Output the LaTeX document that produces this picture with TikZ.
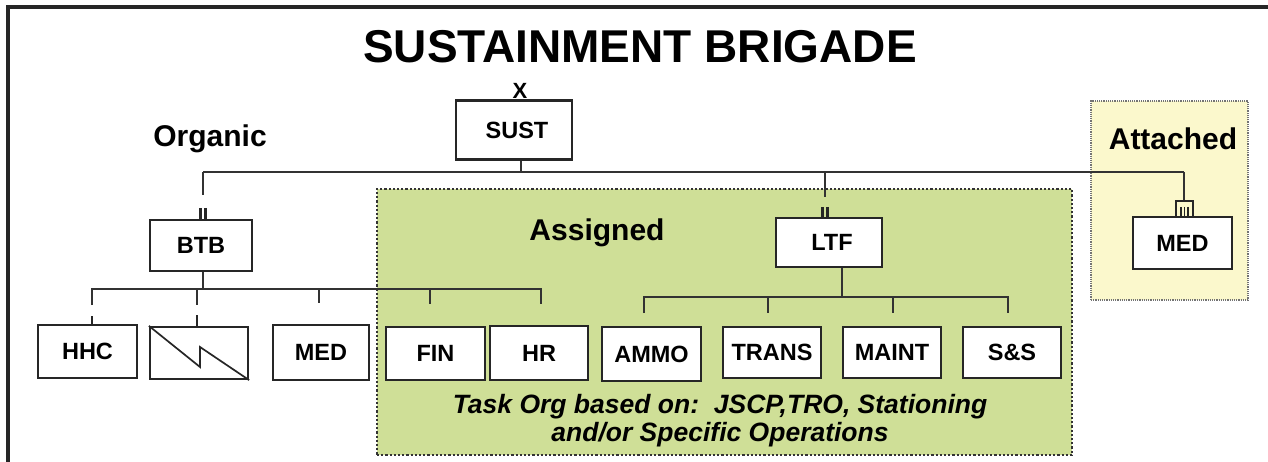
\documentclass[tikz,border=0pt]{standalone}
\usepackage{fontspec}
\setmainfont{Liberation Sans}
\usetikzlibrary{calc}
\definecolor{assgreen}{RGB}{207,223,151}
\definecolor{attyellow}{RGB}{251,248,204}
\definecolor{linegray}{RGB}{50,50,50}
\tikzset{
  unitbox/.style={draw=black!85, line width=2.2pt, fill=white, minimum width=98pt, minimum height=53pt, inner sep=0pt, font=\fontsize{23.5}{26}\selectfont\bfseries},
  conn/.style={draw=linegray, line width=2pt},
  echelon/.style={draw=black!85, line width=2.2pt},
  lbl/.style={font=\fontsize{30}{34}\selectfont\bfseries, inner sep=0pt},
}
\begin{document}
\begin{tikzpicture}[x=1pt,y=-1pt]
\useasboundingbox (0,0) rectangle (1268,462);
% frame
\draw[line width=3.5pt, black!85] (8,462) -- (8,7) -- (1268,7);
% background regions
\node[draw=black!80, dotted, line width=2.2pt, fill=assgreen, minimum width=695pt, minimum height=266pt, inner sep=0pt] (assigned) at (724.5,322) {};
\node[draw=black!55, densely dotted, line width=1.2pt, fill=attyellow, minimum width=157pt, minimum height=199pt, inner sep=0pt] (attached) at (1169.5,200.5) {};
% title
\node[font=\fontsize{46}{50}\selectfont\bfseries, inner sep=0pt] (title) at (640,47) {SUSTAINMENT BRIGADE};
% labels
\node[lbl] (organic) at (210,139) {Organic};
\node[lbl] (assignedlbl) at (597,233) {Assigned};
\node[lbl] (attachedlbl) at (1173,139) {Attached};
% top unit
\node[unitbox, line width=2.6pt, minimum width=116pt, minimum height=59pt] (SUST) at (514,130) {\hspace*{6pt}SUST};
\node[font=\fontsize{22}{24}\selectfont\bfseries, inner sep=0pt] (xsym) at (520,91) {X};
% bus from SUST
\coordinate (busL) at (203,172);
\coordinate (busM) at (825,172);
\coordinate (busR) at (1184,172);
\draw[conn] (SUST.south -| 521,0) -- (521,172);
\draw[conn] (busL) -- (busR);
% BTB
\node[unitbox, minimum width=102pt, minimum height=51pt] (BTB) at (201,245.5) {BTB};
\draw[conn] (busL) -- (203,195) coordinate (btbdrop);
\draw[echelon] (200.5,208) -- (200.5,220) (205.5,208) -- (205.5,220);
% LTF
\node[unitbox, minimum width=106pt, minimum height=49pt] (LTF) at (829,242.5) {\hspace*{6pt}LTF};
\draw[conn] (busM) -- (825,197) coordinate (ltfdrop);
\draw[echelon] (822.5,207) -- (822.5,218) (827.5,207) -- (827.5,218);
% attached MED
\node[unitbox, minimum width=99pt, minimum height=52pt] (MEDatt) at (1182.5,243) {MED};
\draw[conn] (busR) -- (1184,201) coordinate (attdrop);
\draw[line width=1.5pt, black!85] (1176,217) -- (1176,201) -- (1193,201) -- (1193,217);
\draw[line width=1.5pt, black!85] (1181,207) -- (1181,217) (1184.5,207) -- (1184.5,217) (1188,207) -- (1188,217);
% BTB children
\node[unitbox, minimum width=99pt] (HHC) at (87.5,351.5) {HHC};
\node[unitbox, minimum width=98pt, minimum height=52pt] (SIG) at (199,353) {};
\draw[line width=1.7pt, black!85] (SIG.north west) -- (200,367) -- (200,347) -- (SIG.south east);
\node[unitbox, minimum width=96pt, minimum height=55pt] (MEDorg) at (321,352.5) {MED};
\node[unitbox, minimum width=99pt] (FIN) at (435.5,353.5) {FIN};
\node[unitbox, minimum width=98pt, minimum height=54pt] (HR) at (539,353) {HR};
\draw[conn] (BTB.south -| 203,0) -- (203,289);
\draw[conn] (92,305) -- (92,289) -- (541,289) -- (541,304);
\draw[conn] (197,289) -- (197,305);
\draw[conn] (319,289) -- (319,303);
\draw[conn] (430,289) -- (430,304);
\draw[echelon, line width=2.6pt] (92,316) -- (HHC.north -| 92,0);
\draw[echelon, line width=2.6pt] (197,315) -- (SIG.north -| 197,0);
% LTF children
\node[unitbox, minimum width=99pt, minimum height=54pt] (AMMO) at (651.5,354) {AMMO};
\node[unitbox, minimum width=98pt, minimum height=51pt] (TRANS) at (772,352.5) {TRANS};
\node[unitbox, minimum width=98pt, minimum height=51pt] (MAINT) at (892,352.5) {MAINT};
\node[unitbox, minimum width=98pt, minimum height=51pt] (SS) at (1012,352.5) {S\&S};
\draw[conn] (LTF.south -| 842,0) -- (842,297);
\draw[conn] (644,313) -- (644,297) -- (1008,297) -- (1008,313);
\draw[conn] (768,297) -- (768,313);
\draw[conn] (893,297) -- (893,313);
% task org text
\node[font=\fontsize{26.5}{28}\selectfont\bfseries\itshape, align=center, inner sep=0pt] (taskorg) at (720,421) {Task Org based on:\ \ JSCP,TRO, Stationing\\and/or Specific Operations};
\end{tikzpicture}
\end{document}
